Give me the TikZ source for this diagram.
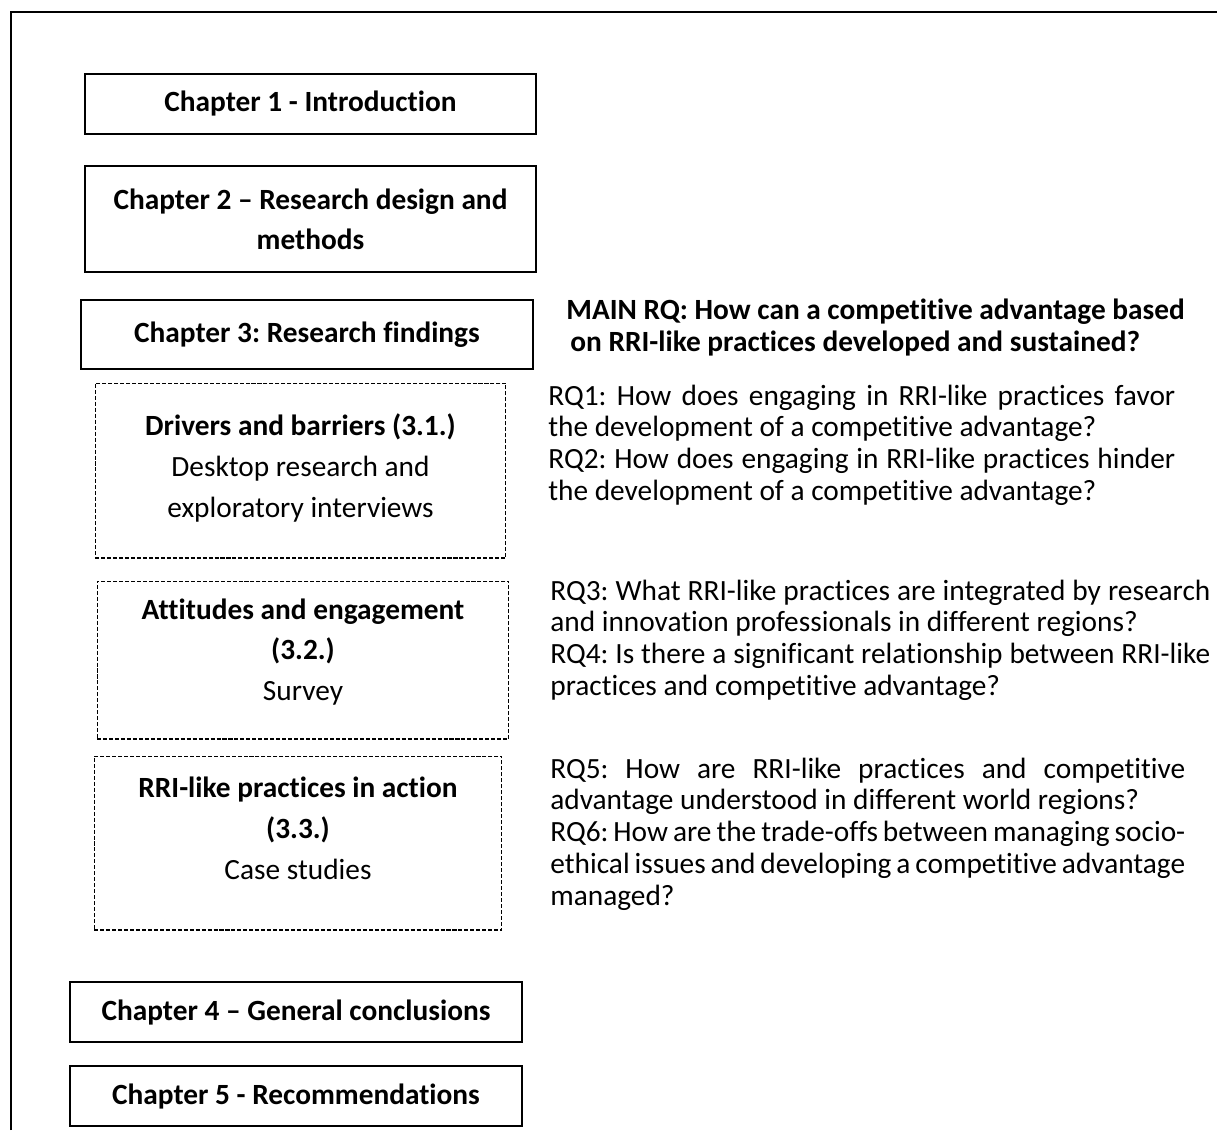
\documentclass[tikz,border=0pt]{standalone}
\usepackage{fontspec}
\setmainfont{Carlito}[RawFeature={-liga;-clig;-calt}]
\usetikzlibrary{positioning}

\begin{document}
\frenchspacing
\begin{tikzpicture}[x=0.02cm,y=-0.02cm,
    every node/.style={font=\fontsize{16.7}{18.1}\selectfont},
    chapbox/.style={draw,line width=1.1pt,minimum width=9.02cm,inner sep=0pt,
                    align=center,font=\fontsize{16.7}{22.7}\selectfont\bfseries},
    secbox/.style={draw,line width=0.6pt,dash pattern=on 2.3pt off 1.1pt,inner sep=0pt},
    sectext/.style={align=center,inner sep=0pt,font=\fontsize{16.7}{23.3}\selectfont},
    rqtext/.style={anchor=base west,align=justify,inner sep=0pt}]
    \useasboundingbox (0,0) rectangle (1217,1130);
    \draw[line width=1.5pt] (11,1130) -- (11,12) -- (1217,12);

    % chapters
    \node[chapbox,minimum height=1.2cm] (intro) at (310.5,104) {Chapter 1 - Introduction};
    \node[chapbox,minimum height=2.12cm] (design) at (310.5,219) {Chapter 2 – Research design and\\methods};
    \node[chapbox,minimum height=1.38cm,minimum width=9.04cm] (findings) at (307,334.5) {Chapter 3: Research findings};
    \node[chapbox,minimum height=1.2cm,minimum width=9.04cm] (concl) at (296,1012) {Chapter 4 – General conclusions};
    \node[chapbox,minimum height=1.2cm,minimum width=9.04cm] (recom) at (296,1096) {Chapter 5 - Recommendations};

    % sections of chapter 3
    \node[secbox,minimum width=8.22cm,minimum height=3.5cm] (drivers) at (300.5,470.5) {};
    \node[sectext] (driverstext) at (300.5,468) {\textbf{Drivers and barriers (3.1.)}\\Desktop research and\\exploratory interviews};
    \node[secbox,minimum width=8.24cm,minimum height=3.16cm] (attitudes) at (303,660) {};
    \node[sectext] (attitudestext) at (303,652) {\textbf{Attitudes and engagement}\\\textbf{(3.2.)}\\Survey};
    \node[secbox,minimum width=8.16cm,minimum height=3.48cm] (action) at (298,843) {};
    \node[sectext] (actiontext) at (298,828) {\textbf{RRI-like practices in action}\\\textbf{(3.3.)}\\Case studies};

    % research questions
    \node[rqtext,align=left,font=\fontsize{16.7}{18.1}\selectfont\bfseries] (mainrq) at (566,351)
        {MAIN RQ: How can a competitive advantage based\\\hspace*{0.08cm}on RRI-like practices developed and sustained?};
    \node[rqtext,text width=12.54cm] (rqa) at (548,405)
        {RQ1: How does engaging in RRI-like practices favor\linebreak the development of a competitive advantage?\newline
         RQ2: How does engaging in RRI-like practices hinder\linebreak the development of a competitive advantage?};
    \node[rqtext,text width=13.2cm] (rqb) at (550,600)
        {RQ3: What RRI-like practices are integrated by research\linebreak and innovation professionals in different regions?\newline
         RQ4: Is there a significant relationship between RRI-like\linebreak practices and competitive advantage?};
    \node[rqtext,text width=12.7cm] (rqc) at (550,778)
        {RQ5: How are RRI-like practices and competitive\linebreak advantage understood in different world regions?\newline
         RQ6: How are the trade-offs between managing socio-\linebreak ethical issues and developing a competitive advantage\linebreak managed?};
\end{tikzpicture}
\end{document}
